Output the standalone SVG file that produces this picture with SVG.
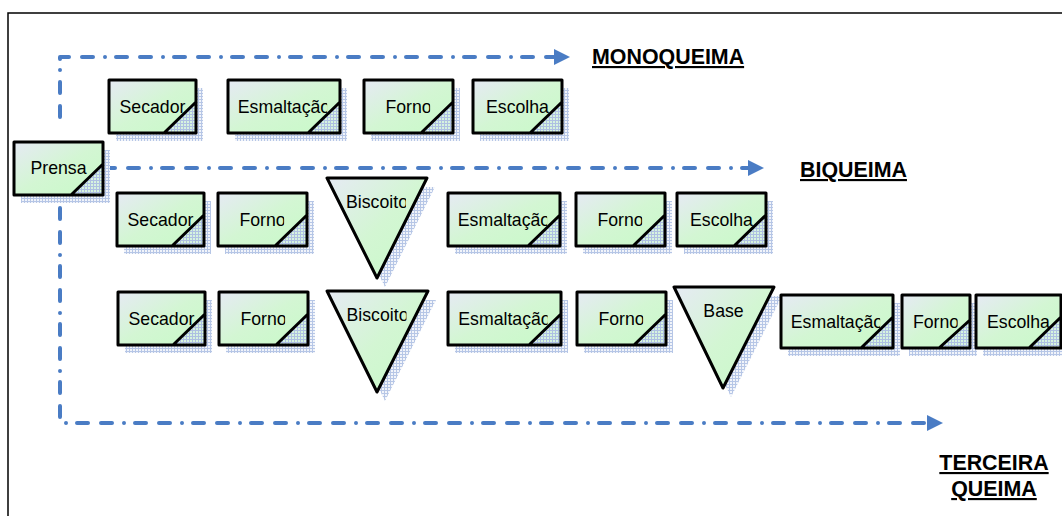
<svg xmlns="http://www.w3.org/2000/svg" width="1062" height="516" viewBox="0 0 1062 516">
<style>
.sh{fill:url(#ps);}
.bx{fill:url(#g);}
.cn{fill:url(#pc);}
.ol{fill:none;stroke:#000;stroke-width:3;stroke-linejoin:round;}
.t{font-family:"Liberation Sans",Arial,sans-serif;font-size:17.7px;fill:#000;text-anchor:middle;}
.cl{clip-path:url(#ct);}
.lbl{font-family:"Liberation Sans",Arial,sans-serif;font-size:21.4px;font-weight:bold;fill:#000;text-decoration:underline;}
.cx{fill:none;stroke:#4a7cc4;stroke-width:4;stroke-linecap:round;stroke-linejoin:round;stroke-dasharray:11 13 11 12 0 11;}
</style>
<defs>
<linearGradient id="g" x1="0" y1="0" x2="1" y2="1">
<stop offset="0" stop-color="#e6eaf4"/>
<stop offset="0.5" stop-color="#d3f6d3"/>
<stop offset="1" stop-color="#c8fac8"/>
</linearGradient>
<pattern id="ps" width="3" height="3" patternUnits="userSpaceOnUse">
<rect width="3" height="3" fill="#f1f4fa"/>
<rect width="3" height="1" fill="#b6c6e6"/>
<rect width="1" height="3" fill="#b6c6e6"/>
</pattern>
<pattern id="pc" width="3" height="3" patternUnits="userSpaceOnUse">
<rect width="3" height="3" fill="#d6f3df"/>
<rect width="3" height="1" fill="#aec0e2"/>
<rect width="1" height="3" fill="#aec0e2"/>
</pattern>
<clipPath id="ct" clipPathUnits="objectBoundingBox"><rect x="-0.1" y="-0.2" width="1.065" height="1.4"/></clipPath>
<marker id="ah" markerUnits="userSpaceOnUse" markerWidth="17" markerHeight="17" refX="0" refY="8" orient="auto" viewBox="0 0 17 16">
<path d="M0,0 L16,8 L0,16 z" fill="#4a7cc4"/>
</marker>
</defs>

<rect x="8" y="13" width="1100" height="600" fill="none" stroke="#000" stroke-width="1.5"/>

<g id="connectors">
<path class="cx" d="M60,117 V57 H554" marker-end="url(#ah)"/>
<path class="cx" d="M104,168 H748" marker-end="url(#ah)"/>
<path class="cx" d="M60,208 V423 H927" marker-end="url(#ah)"/>
</g>

<g id="prensa">
<rect class="sh" x="21" y="150" width="89" height="53"/>
<rect class="bx" x="14" y="142" width="89" height="53"/>
<polygon class="cn" points="71,195 103,164 103,195"/>
<text class="t" x="58.5" y="174">Prensa</text>
<path class="ol" d="M14,142 h89 v53 h-89 z M71,195 L103,164"/>
</g>

<g id="r1-secador">
<rect class="sh" x="116" y="88" width="87" height="53"/>
<rect class="bx" x="109" y="80" width="87" height="53"/>
<polygon class="cn" points="164,133 196,102 196,133"/>
<text class="t" x="152.5" y="112.5">Secador</text>
<path class="ol" d="M109,80 h87 v53 h-87 z M164,133 L196,102"/>
</g>
<g id="r1-esmaltacao">
<rect class="sh" x="235" y="88" width="112" height="53"/>
<rect class="bx" x="228" y="80" width="112" height="53"/>
<polygon class="cn" points="308,133 340,102 340,133"/>
<text class="t cl" x="284" y="112.5">Esmaltação</text>
<path class="ol" d="M228,80 h112 v53 h-112 z M308,133 L340,102"/>
</g>
<g id="r1-forno">
<rect class="sh" x="371" y="88" width="89" height="53"/>
<rect class="bx" x="364" y="80" width="89" height="53"/>
<polygon class="cn" points="421,133 453,102 453,133"/>
<text class="t cl" x="408.5" y="112.5">Forno</text>
<path class="ol" d="M364,80 h89 v53 h-89 z M421,133 L453,102"/>
</g>
<g id="r1-escolha">
<rect class="sh" x="480" y="88" width="89" height="53"/>
<rect class="bx" x="473" y="80" width="89" height="53"/>
<polygon class="cn" points="530,133 562,102 562,133"/>
<text class="t" x="517.5" y="112.5">Escolha</text>
<path class="ol" d="M473,80 h89 v53 h-89 z M530,133 L562,102"/>
</g>

<g id="r2-secador">
<rect class="sh" x="124" y="201" width="87" height="53"/>
<rect class="bx" x="117" y="193" width="87" height="53"/>
<polygon class="cn" points="172,246 204,215 204,246"/>
<text class="t" x="160.5" y="225.5">Secador</text>
<path class="ol" d="M117,193 h87 v53 h-87 z M172,246 L204,215"/>
</g>
<g id="r2-forno">
<rect class="sh" x="225" y="201" width="89" height="53"/>
<rect class="bx" x="218" y="193" width="89" height="53"/>
<polygon class="cn" points="275,246 307,215 307,246"/>
<text class="t cl" x="262.5" y="225.5">Forno</text>
<path class="ol" d="M218,193 h89 v53 h-89 z M275,246 L307,215"/>
</g>
<g id="r2-biscoito">
<polygon class="sh" points="335,187 435,187 385,287"/>
<polygon class="bx" points="327,178 427,178 377,278"/>
<text class="t cl" x="377" y="208">Biscoito</text>
<polygon class="ol" points="327,178 427,178 377,278"/>
</g>
<g id="r2-esmaltacao">
<rect class="sh" x="455" y="201" width="112" height="53"/>
<rect class="bx" x="448" y="193" width="112" height="53"/>
<polygon class="cn" points="528,246 560,215 560,246"/>
<text class="t cl" x="504" y="225.5">Esmaltação</text>
<path class="ol" d="M448,193 h112 v53 h-112 z M528,246 L560,215"/>
</g>
<g id="r2-forno2">
<rect class="sh" x="583" y="201" width="89" height="53"/>
<rect class="bx" x="576" y="193" width="89" height="53"/>
<polygon class="cn" points="633,246 665,215 665,246"/>
<text class="t cl" x="620.5" y="225.5">Forno</text>
<path class="ol" d="M576,193 h89 v53 h-89 z M633,246 L665,215"/>
</g>
<g id="r2-escolha">
<rect class="sh" x="684" y="201" width="89" height="53"/>
<rect class="bx" x="677" y="193" width="89" height="53"/>
<polygon class="cn" points="734,246 766,215 766,246"/>
<text class="t" x="721.5" y="225.5">Escolha</text>
<path class="ol" d="M677,193 h89 v53 h-89 z M734,246 L766,215"/>
</g>

<g id="r3-secador">
<rect class="sh" x="125" y="300" width="87" height="53"/>
<rect class="bx" x="118" y="292" width="87" height="53"/>
<polygon class="cn" points="173,345 205,314 205,345"/>
<text class="t" x="161.5" y="324.5">Secador</text>
<path class="ol" d="M118,292 h87 v53 h-87 z M173,345 L205,314"/>
</g>
<g id="r3-forno">
<rect class="sh" x="226" y="300" width="89" height="53"/>
<rect class="bx" x="219" y="292" width="89" height="53"/>
<polygon class="cn" points="276,345 308,314 308,345"/>
<text class="t cl" x="263.5" y="324.5">Forno</text>
<path class="ol" d="M219,292 h89 v53 h-89 z M276,345 L308,314"/>
</g>
<g id="r3-biscoito">
<polygon class="sh" points="335,300 436,300 385,401"/>
<polygon class="bx" points="327,291 428,291 377,392"/>
<text class="t cl" x="377.5" y="321">Biscoito</text>
<polygon class="ol" points="327,291 428,291 377,392"/>
</g>
<g id="r3-esmaltacao">
<rect class="sh" x="455" y="300" width="113" height="53"/>
<rect class="bx" x="448" y="292" width="113" height="53"/>
<polygon class="cn" points="529,345 561,314 561,345"/>
<text class="t cl" x="504.5" y="324.5">Esmaltação</text>
<path class="ol" d="M448,292 h113 v53 h-113 z M529,345 L561,314"/>
</g>
<g id="r3-forno2">
<rect class="sh" x="584" y="300" width="89" height="53"/>
<rect class="bx" x="577" y="292" width="89" height="53"/>
<polygon class="cn" points="634,345 666,314 666,345"/>
<text class="t cl" x="621.5" y="324.5">Forno</text>
<path class="ol" d="M577,292 h89 v53 h-89 z M634,345 L666,314"/>
</g>
<g id="r3-base">
<polygon class="sh" points="682,296 782,296 731,397"/>
<polygon class="bx" points="674,287 774,287 723,388"/>
<text class="t" x="723.5" y="317">Base</text>
<polygon class="ol" points="674,287 774,287 723,388"/>
</g>
<g id="r3-esmaltacao2">
<rect class="sh" x="788" y="303" width="112" height="53"/>
<rect class="bx" x="781" y="295" width="112" height="53"/>
<polygon class="cn" points="861,348 893,317 893,348"/>
<text class="t cl" x="837" y="327.5">Esmaltação</text>
<path class="ol" d="M781,295 h112 v53 h-112 z M861,348 L893,317"/>
</g>
<g id="r3-forno3">
<rect class="sh" x="909" y="303" width="68" height="53"/>
<rect class="bx" x="902" y="295" width="68" height="53"/>
<polygon class="cn" points="939,348 970,320 970,348"/>
<text class="t cl" x="936" y="327.5">Forno</text>
<path class="ol" d="M902,295 h68 v53 h-68 z M939,348 L970,320"/>
</g>
<g id="r3-escolha">
<rect class="sh" x="983" y="303" width="85" height="53"/>
<rect class="bx" x="976" y="295" width="85" height="53"/>
<polygon class="cn" points="1029,348 1061,317 1061,348"/>
<text class="t" x="1018.5" y="327.5">Escolha</text>
<path class="ol" d="M976,295 h85 v53 h-85 z M1029,348 L1061,317"/>
</g>

<g id="labels">
<text class="lbl" x="592" y="64">MONOQUEIMA</text>
<text class="lbl" x="800" y="177">BIQUEIMA</text>
<text class="lbl" x="994" y="470" text-anchor="middle">TERCEIRA</text>
<text class="lbl" x="994" y="496" text-anchor="middle">QUEIMA</text>
</g>
</svg>
